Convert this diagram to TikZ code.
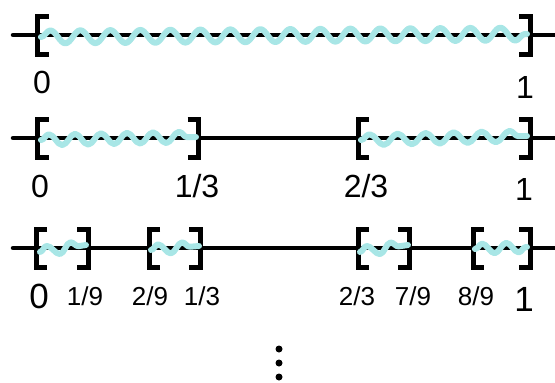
\documentclass[tikz,border=0pt]{standalone}
\usepackage{fontspec}
\setmainfont{Liberation Sans}
\usetikzlibrary{decorations.pathmorphing}
\definecolor{wavecol}{RGB}{168,230,230}
\tikzset{
  axis/.style={line width=4.5pt, line cap=round, black},
  brk/.style={line width=5pt, black, line join=miter},
  lbr/.pic={\draw[brk] (11,-19) -- (0,-19) -- (0,19) -- (11,19);},
  rbr/.pic={\draw[brk] (-11,-19) -- (0,-19) -- (0,19) -- (-11,19);},
  wave/.style={wavecol, line width=6pt, line cap=round, line join=round,
    decorate, decoration={snake, amplitude=6.5pt, segment length=30pt, pre length=0pt, post length=0pt}},
  lab/.style={anchor=base, inner sep=0pt, font=\fontsize{32}{33}\selectfont},
  sml/.style={anchor=base, inner sep=0pt, font=\fontsize{26}{27}\selectfont},
  bigl/.style={anchor=base, inner sep=0pt, font=\fontsize{35}{36}\selectfont},
  dotc/.style={fill=black, draw=none}
}
\begin{document}
\begin{tikzpicture}[x=1pt,y=-1pt]
\useasboundingbox (0,0) rectangle (555,383);
% ---------- row 1 ----------
\coordinate (r1s) at (13,35);
\coordinate (r1e) at (555,35);
\draw[axis] (r1s) -- (r1e);
\pic at (37.5,35) {lbr};
\pic at (530,35) {rbr};
\coordinate (w1a) at (41,37);
\coordinate (w1b) at (527,34);
\draw[wave] (w1a) -- (w1b);
\node[lab] (a0) at (42,93) {0};
\node[lab] (a1) at (525,98) {1};
% ---------- row 2 ----------
\coordinate (r2s) at (13,138);
\coordinate (r2e) at (555,138);
\draw[axis] (r2s) -- (r2e);
\pic at (37.5,138) {lbr};
\pic at (198.5,138) {rbr};
\pic at (358,138) {lbr};
\pic at (530,138) {rbr};
\coordinate (w2a) at (41,140);
\coordinate (w2b) at (196,137);
\coordinate (w2c) at (361,140);
\coordinate (w2d) at (527,136);
\draw[wave, decoration={segment length=26pt, amplitude=5.5pt}] (w2a) -- (w2b);
\draw[wave, decoration={segment length=28pt, amplitude=5.5pt}] (w2c) -- (w2d);
\node[lab] (b0) at (40,197) {0};
\node[lab] (b13) at (197,197) {1/3};
\node[lab] (b23) at (366,197) {2/3};
\node[lab] (b1) at (524,200) {1};
% ---------- row 3 ----------
\coordinate (r3s) at (13,248);
\coordinate (r3e) at (555,248);
\draw[axis] (r3s) -- (r3e);
\pic at (36,248) {lbr};
\pic at (88,248) {rbr};
\pic at (149,248) {lbr};
\pic at (200,248) {rbr};
\pic at (358,248) {lbr};
\pic at (409,248) {rbr};
\pic at (473,248) {lbr};
\pic at (530,248) {rbr};
\coordinate (w3a) at (40,252);
\coordinate (w3b) at (86,245);
\coordinate (w3c) at (151,250);
\coordinate (w3d) at (199,246);
\coordinate (w3e) at (360,252);
\coordinate (w3f) at (408,245);
\coordinate (w3g) at (475,249);
\coordinate (w3h) at (527,247);
\draw[wave, decoration={segment length=24pt, amplitude=5pt}] (w3a) -- (w3b);
\draw[wave, decoration={segment length=24pt, amplitude=5pt}] (w3c) -- (w3d);
\draw[wave, decoration={segment length=24pt, amplitude=5pt}] (w3e) -- (w3f);
\draw[wave, decoration={segment length=24pt, amplitude=5pt}] (w3g) -- (w3h);
\node[bigl] (c0) at (39,308) {0};
\node[sml] (c19) at (85,305) {1/9};
\node[sml] (c29) at (150,305) {2/9};
\node[sml] (c13) at (202,305) {1/3};
\node[sml] (c23) at (357,305) {2/3};
\node[sml] (c79) at (413,305) {7/9};
\node[sml] (c89) at (476,305) {8/9};
\node[bigl] (c1) at (524,311) {1};
% ---------- dots ----------
\fill[dotc] (279,349) circle (3.5);
\fill[dotc] (279,363) circle (3.5);
\fill[dotc] (279,377) circle (3.5);
\end{tikzpicture}
\end{document}
